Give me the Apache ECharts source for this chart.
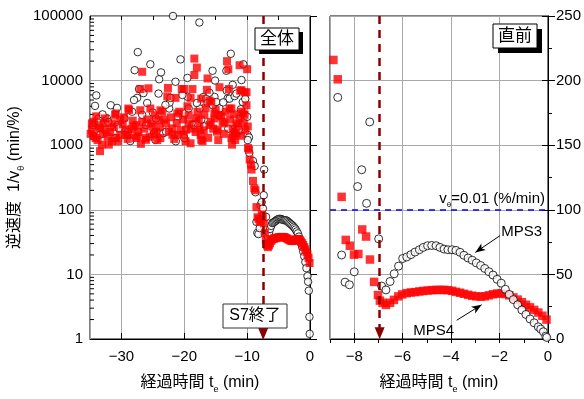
<!DOCTYPE html>
<html>
<head>
<meta charset="utf-8">
<script src="https://cdn.jsdelivr.net/npm/echarts@6/dist/echarts.min.js"></script>
<style>
  html, body { margin: 0; padding: 0; background: #fff; }
  #chart { width: 584px; height: 399px; }
</style>
</head>
<body>
<div id="chart"></div>
<script>
// MPS3 (○) 経過時間 t_e (min) / 逆速度 1/vθ (min/%)
const mps3Time = [
  -34.5, -34.4, -34.2, -34.0, -33.6, -33.4, -32.3, -32.1, -31.7, -30.7, -30.6, -30.4,
  -28.6, -28.3, -27.9, -27.5, -27.4, -27.2, -26.7, -26.1, -25.9, -25.4, -24.8, -24.6,
  -24.5, -24.1, -24.0, -23.7, -23.3, -22.9, -22.4, -22.35, -22.2, -21.8, -21.4, -21.35,
  -20.6, -20.0, -19.95, -19.5, -19.45, -19.3, -18.7, -18.5, -17.9, -17.6, -17.55, -17.0,
  -16.8, -16.5, -16.3, -15.5, -15.45, -15.2, -15.1, -14.9, -14.4, -13.3, -13.25, -13.1,
  -12.8, -12.6, -12.3, -12.0, -11.95, -11.7, -11.5, -11.3, -10.9, -10.7, -10.6, -10.4,
  -10.0, -9.95, -9.7, -9.65, -9.07,
  -33.0, -31.0, -29.5, -29.0, -28.0, -26.5, -25.0, -23.0, -21.0, -20.3, -18.0, -17.3,
  -16.0, -14.6, -13.8, -13.0, -11.0, -10.3, -9.9,
  -8.8, -8.68, -8.52, -8.38, -8.2, -8.0, -7.86, -7.69, -7.49, -7.36, -7.3, -6.99,
  -6.87, -6.69, -6.52, -6.35, -6.17, -6.0, -5.83, -5.66, -5.49, -5.31, -5.15, -4.97,
  -4.8, -4.62, -4.46, -4.29, -4.13, -3.96, -3.8, -3.63, -3.47, -3.3, -3.13, -2.96,
  -2.78, -2.61, -2.44, -2.27, -2.1, -1.93, -1.76, -1.6, -1.43, -1.25, -1.08, -0.91,
  -0.74, -0.57, -0.4, -0.3, -0.19, -0.09, -0.05
];
const mps3Value = [
  2050, 1380, 4060, 5900, 2600, 1450, 2600, 2300, 4150, 3780, 2050, 1820,
  1160, 3300, 14500, 5400, 27600, 7400, 2950, 2040, 4500, 17900, 1540, 1210,
  2600, 6300, 10500, 13400, 1540, 1620, 3700, 4550, 5400, 100000, 9600, 1150,
  21300, 1290, 3100, 11000, 5600, 3700, 2100, 2050, 2180, 79400, 3700, 5550,
  1950, 5250, 4500, 14200, 4150, 5600, 10000, 4660, 3700, 14200, 7000, 5300,
  5250, 26000, 8600, 5750, 1620, 6300, 1620, 1740, 10200, 4660, 17900, 2950,
  2750, 1450, 1320, 760, 570,
  3000, 1300, 2600, 1600, 5000, 6400, 3200, 4200, 2800, 6000, 4500, 2500,
  6500, 2900, 4600, 1800, 3600, 5200, 1200,
  475, 187, 65, 44, 42, 52, 118, 131, 105, 168, 420, 77.5,
  41, 38, 44.5, 50.5, 56.4, 62.3, 63.5, 65.3, 67.3, 69.1, 70.9, 72.2,
  72.4, 72.2, 70.9, 69.6, 69.1, 69.1, 68.6, 67.1, 64.8, 62.7, 61, 58.9,
  56.9, 54.6, 52.1, 49.5, 46.2, 43.2, 38.5, 34.5, 30.5, 26.5, 22.5, 19,
  15.5, 12.5, 9.4, 7.7, 5.6, 2.2, 1.2
];

// MPS4 (■)
const mps4Time = [
  -34.7, -34.7, -34.4, -34.4, -34.1, -33.6, -33.4, -33.4, -33.1, -32.6, -32.5, -32.0,
  -31.5, -31.5, -31.0, -30.9, -30.9, -30.2, -30.2, -29.4, -29.3, -28.9, -28.85, -28.8,
  -28.05, -27.7, -27.7, -27.5, -27.0, -27.0, -26.7, -26.7, -26.2, -26.1, -25.7, -25.4,
  -25.3, -25.1, -24.85, -24.5, -24.05, -23.8, -23.8, -23.5, -22.9, -22.7, -22.6, -22.45,
  -21.9, -21.9, -21.4, -21.1, -21.1, -20.8, -20.4, -20.05, -20.05, -19.7, -19.5, -19.25,
  -19.0, -19.0, -18.7, -18.4, -18.4, -18.1, -18.0, -17.9, -17.6, -17.4, -17.3, -17.3,
  -17.1, -16.8, -16.4, -16.3, -16.0, -16.0, -15.7, -15.2, -15.2, -14.8, -14.7, -14.4,
  -14.4, -13.9, -13.6, -13.2, -13.0, -12.9, -12.8, -12.5, -12.5, -12.4, -12.3, -12.3,
  -12.0, -11.7, -11.7, -11.2, -11.2, -11.1, -10.9, -10.9, -10.7, -10.4, -10.4, -10.1,
  -10.1, -10.0, -9.9,
  -34.9, -34.0, -33.8, -33.0, -32.8, -32.2, -31.8, -31.2, -30.5, -29.8, -29.6, -29.0,
  -28.4, -28.2, -27.3, -26.9, -26.4, -25.9, -25.5, -24.7, -24.3, -23.9, -23.2, -22.1,
  -21.6, -21.2, -20.6, -20.2, -19.8, -19.3, -18.9, -18.2, -17.7, -16.9, -16.6, -16.2,
  -15.8, -15.4, -15.0, -14.6, -14.1, -13.7, -13.4, -12.7, -12.1, -11.9, -11.5, -11.0,
  -10.6, -10.3,
  -9.87, -9.7, -9.6, -9.4, -9.3, -9.07,
  -8.86, -8.68, -8.52, -8.35, -8.18, -8.01, -7.83, -7.67, -7.51, -7.35, -7.18, -7.02,
  -6.94, -6.83, -6.69, -6.52, -6.36, -6.18, -6.02, -5.83, -5.66, -5.49, -5.31, -5.15,
  -4.97, -4.8, -4.62, -4.46, -4.29, -4.13, -3.96, -3.8, -3.63, -3.47, -3.3, -3.13,
  -2.96, -2.78, -2.61, -2.44, -2.27, -2.1, -1.93, -1.76, -1.6, -1.43, -1.25, -1.08,
  -0.91, -0.74, -0.57, -0.4, -0.23, -0.06
];
const mps4Value = [
  2180, 1740, 2300, 1380, 1290, 1950, 1830, 810, 1020, 2600, 1740, 1020,
  2180, 1150, 2950, 3100, 1290, 2450, 1450, 1740, 1450, 3700, 1450, 3500,
  1950, 2050, 1290, 1380, 7400, 3470, 13700, 2300, 1290, 1210, 7600, 3700,
  2180, 1950, 1480, 1620, 2450, 3470, 1290, 3300, 2180, 5700, 7700, 1620,
  1820, 1450, 5400, 3100, 1450, 3300, 7400, 7400, 1450, 1740, 4000, 2180,
  5400, 1070, 7400, 21900, 12200, 2600, 15900, 3300, 1830, 1450, 5250, 1210,
  1150, 2950, 7200, 10800, 4900, 2050, 4700, 3100, 2600, 1620, 1740, 7900,
  2950, 2300, 2180, 20000, 15000, 7400, 3700, 3700, 1290, 1020, 1820, 1380,
  1540, 2180, 1540, 17300, 2600, 7000, 7100, 3300, 3100, 6600, 2950, 6600,
  4150, 15000, 1950,
  1500, 2800, 1200, 1500, 2200, 1350, 1600, 1900, 1150, 2100, 2700, 1250,
  1800, 2400, 1600, 1050, 1800, 2500, 1350, 2900, 1200, 1900, 2500, 2700,
  1250, 2200, 1700, 2500, 1150, 2900, 1800, 1600, 2400, 1700, 3800, 1300,
  2300, 1800, 3500, 1200, 2800, 1500, 3300, 2500, 3000, 1200, 2000, 1400,
  2200, 1700,
  906, 850, 600, 500, 420, 280,
  216, 201, 110, 76.7, 72.2, 65.3, 65.8, 84.8, 79.3, 61.5, 44.2, 34,
  29.7, 28, 26.4, 28, 30.3, 33, 34.5, 35.5, 36, 36.3, 36.8, 37.2,
  37.5, 37.8, 38, 38, 38, 37.8, 37.3, 36.5, 35.8, 35, 34.2, 33.5,
  33, 32.8, 33, 33.8, 34.6, 35.2, 35.3, 34.8, 33.8, 32.2, 30.5, 28.5,
  26.5, 24.5, 22.5, 20.5, 18, 15
];

const logMinorTicks = [
  2, 3, 4, 5, 6, 7, 8, 9, 20, 30, 40, 50, 60, 70, 80, 90,
  200, 300, 400, 500, 600, 700, 800, 900, 2000, 3000, 4000, 5000, 6000, 7000, 8000, 9000,
  20000, 30000, 40000, 50000, 60000, 70000, 80000, 90000
];
const s7EndWhole = -7.45;   // S7終了 (全体)
const s7EndLast = -6.95;    // S7終了 (直前)
const thresholdLine = 100;  // vθ = 0.01 %/min
const mps3Arrow = [[-1.98, 80], [-3.0, 67]];
const mps4Arrow = [[-3.77, 14.5], [-2.74, 26.5]];

const FONT = "'Liberation Sans', Arial, 'Noto Sans CJK JP', sans-serif";
const GRID_COLOR = '#a8a8a8';
const DARK_RED = '#8b0000';

const mps3Data = mps3Time.map((t, i) => [t, mps3Value[i]]);
const mps4Data = mps4Time.map((t, i) => [t, mps4Value[i]]);

const minus = (v) => (v < 0 ? '\u2212' + Math.abs(v) : String(v));

const xName = '{t|経過時間 t}{s|e}{t| (min)}';
const nameRich = {
  t: { fontSize: 16, fontFamily: FONT, color: '#000', lineHeight: 22 },
  s: { fontSize: 9, fontFamily: FONT, color: '#000', lineHeight: 9, verticalAlign: 'bottom' }
};

const chart = echarts.init(document.getElementById('chart'), null, { renderer: 'canvas' });

const circleStyle = { color: '#fff', borderColor: '#000', borderWidth: 1 };
const squareStyle = { color: '#ff0000' };

const option = {
  animation: false,
  grid: [
    { left: 90, top: 16, width: 220, height: 328, show: true, borderColor: '#000', borderWidth: 1 },
    { left: 330, top: 16, width: 218, height: 328, show: true, borderColor: '#000', borderWidth: 1 }
  ],
  xAxis: [
    {
      gridIndex: 0, type: 'value', min: -35, max: 0, minInterval: 10, maxInterval: 10,
      axisLine: { lineStyle: { color: '#000' } },
      axisTick: { inside: true, length: 6, lineStyle: { color: '#000' } },
      axisLabel: { formatter: minus, showMinLabel: false, fontSize: 15, fontFamily: FONT, color: '#000', margin: 10 },
      splitLine: { show: true, lineStyle: { color: GRID_COLOR } },
      name: xName, nameLocation: 'middle', nameGap: 33,
      nameTextStyle: { rich: nameRich }
    },
    {
      gridIndex: 0, type: 'value', min: -35, max: 0, interval: 5,
      axisLine: { show: false },
      axisTick: { inside: true, length: 4, lineStyle: { color: '#000' } },
      axisLabel: { show: false }, splitLine: { show: false }
    },
    {
      gridIndex: 1, type: 'value', min: -9, max: 0, minInterval: 2, maxInterval: 2,
      axisLine: { lineStyle: { color: '#000' } },
      axisTick: { inside: true, length: 6, lineStyle: { color: '#000' } },
      axisLabel: { formatter: minus, showMinLabel: false, fontSize: 15, fontFamily: FONT, color: '#000', margin: 10 },
      splitLine: { show: true, lineStyle: { color: GRID_COLOR } },
      name: xName, nameLocation: 'middle', nameGap: 33,
      nameTextStyle: { rich: nameRich }
    },
    {
      gridIndex: 1, type: 'value', min: -9, max: 0, interval: 1,
      axisLine: { show: false },
      axisTick: { inside: true, length: 4, lineStyle: { color: '#000' } },
      axisLabel: { show: false }, splitLine: { show: false }
    }
  ],
  yAxis: [
    {
      gridIndex: 0, type: 'log', logBase: 10, min: 1, max: 100000,
      axisLine: { show: true, lineStyle: { color: '#000' } },
      axisTick: { show: true, inside: true, length: 7, lineStyle: { color: '#000' } },
      axisLabel: { formatter: (v) => String(Math.round(v)), fontSize: 15, fontFamily: FONT, color: '#000', margin: 7 },
      splitLine: { show: true, lineStyle: { color: GRID_COLOR } },
      name: '{t|逆速度  1/v}{s|θ}{t| (min/%)}',
      nameLocation: 'middle', nameRotate: 90, nameGap: 64,
      nameTextStyle: { rich: nameRich }
    },
    {
      gridIndex: 1, type: 'value', position: 'right', min: 0, max: 250, interval: 50,
      axisLine: { show: true, lineStyle: { color: '#000' } },
      axisTick: { show: true, inside: true, length: 6, lineStyle: { color: '#000' } },
      axisLabel: { fontSize: 15, fontFamily: FONT, color: '#000', margin: 8 },
      splitLine: { show: true, lineStyle: { color: GRID_COLOR } }
    },
    {
      gridIndex: 1, type: 'value', position: 'left', min: 0, max: 250, interval: 50,
      axisLine: { show: true, lineStyle: { color: '#000' } },
      axisTick: { show: true, inside: true, length: 7, lineStyle: { color: '#000' } },
      minorTick: { show: true, splitNumber: 2, length: 4, lineStyle: { color: '#000' } },
      axisLabel: { show: false }, splitLine: { show: false }
    }
  ],
  series: [
    {
      type: 'custom', xAxisIndex: 0, yAxisIndex: 0, silent: true, z: 1,
      data: logMinorTicks.map((v) => [-35, v]),
      renderItem: (params, api) => {
        const p = api.coord([api.value(0), api.value(1)]);
        return {
          type: 'line',
          shape: { x1: p[0], y1: p[1], x2: p[0] + 4, y2: p[1] },
          style: { stroke: '#000', lineWidth: 1 }
        };
      }
    },
    {
      name: 'MPS3', type: 'scatter', xAxisIndex: 0, yAxisIndex: 0, clip: true, z: 3,
      symbol: 'circle', symbolSize: 7.5, itemStyle: circleStyle, data: mps3Data
    },
    {
      name: 'MPS4', type: 'scatter', xAxisIndex: 0, yAxisIndex: 0, clip: true, z: 4,
      symbol: 'rect', symbolSize: 8, itemStyle: squareStyle, data: mps4Data,
      markLine: {
        silent: true, animation: false,
        label: { show: false },
        data: [[
          { coord: [s7EndWhole, 100000], symbol: 'none' },
          { coord: [s7EndWhole, 1.2], symbol: 'triangle', symbolSize: [10, 12] }
        ]],
        lineStyle: { color: DARK_RED, width: 2.5, type: [8, 6] }
      }
    },
    {
      name: 'MPS4', type: 'scatter', xAxisIndex: 2, yAxisIndex: 1, clip: true, z: 3,
      symbol: 'rect', symbolSize: 8.5, itemStyle: squareStyle, data: mps4Data
    },
    {
      name: 'MPS3', type: 'scatter', xAxisIndex: 2, yAxisIndex: 1, clip: true, z: 4,
      symbol: 'circle', symbolSize: 8, itemStyle: circleStyle, data: mps3Data,
      markLine: {
        silent: true, animation: false,
        label: { show: false },
        data: [
          [
            { coord: [s7EndLast, 250], symbol: 'none', lineStyle: { color: DARK_RED, width: 2.5, type: [8, 6] } },
            { coord: [s7EndLast, 4.5], symbol: 'triangle', symbolSize: [10, 12] }
          ],
          [
            { coord: [-9, thresholdLine], symbol: 'none', lineStyle: { color: '#0000ff', width: 1.5, type: [6, 5] } },
            { coord: [0, thresholdLine], symbol: 'none' }
          ],
          [
            { coord: mps3Arrow[0], symbol: 'none', lineStyle: { color: '#000', width: 1, type: 'solid' } },
            { coord: mps3Arrow[1], symbol: 'arrow', symbolSize: [6, 10] }
          ],
          [
            { coord: mps4Arrow[0], symbol: 'none', lineStyle: { color: '#000', width: 1, type: 'solid' } },
            { coord: mps4Arrow[1], symbol: 'arrow', symbolSize: [6, 10] }
          ]
        ]
      }
    }
  ],
  graphic: [
    { type: 'rect', z: 100, shape: { x: 259, y: 32, width: 44, height: 22 }, style: { fill: '#000' } },
    { type: 'rect', z: 101, shape: { x: 255, y: 28, width: 44, height: 22 }, style: { fill: '#fff', stroke: '#000', lineWidth: 1 } },
    { type: 'text', z: 102, x: 277, y: 39, style: { text: '全体', font: '17px ' + FONT, fill: '#000', align: 'center', verticalAlign: 'middle' } },

    { type: 'rect', z: 100, shape: { x: 498, y: 29, width: 44, height: 24 }, style: { fill: '#000' } },
    { type: 'rect', z: 101, shape: { x: 493, y: 24, width: 44, height: 24 }, style: { fill: '#fff', stroke: '#000', lineWidth: 1 } },
    { type: 'text', z: 102, x: 515, y: 36, style: { text: '直前', font: '17px ' + FONT, fill: '#000', align: 'center', verticalAlign: 'middle' } },

    { type: 'rect', z: 101, shape: { x: 223, y: 304, width: 64, height: 24 }, style: { fill: '#fff', stroke: '#333', lineWidth: 1 } },
    { type: 'text', z: 102, x: 255, y: 316, style: { text: 'S7終了', font: '16px ' + FONT, fill: '#000', align: 'center', verticalAlign: 'middle' } },

    {
      type: 'text', z: 102, x: 545, y: 199,
      style: {
        text: '{t|v}{s|θ}{t|=0.01 (%/min)}', align: 'right', verticalAlign: 'middle',
        rich: {
          t: { fontSize: 15, fontFamily: FONT, fill: '#000', lineHeight: 20 },
          s: { fontSize: 8, fontFamily: FONT, fill: '#000', lineHeight: 8, verticalAlign: 'bottom' }
        }
      }
    },
    { type: 'text', z: 102, x: 542, y: 232, style: { text: 'MPS3', font: '15px ' + FONT, fill: '#000', align: 'right', verticalAlign: 'middle' } },
    { type: 'text', z: 102, x: 454, y: 331, style: { text: 'MPS4', font: '15px ' + FONT, fill: '#000', align: 'right', verticalAlign: 'middle' } }
  ]
};

chart.setOption(option);
</script>
</body>
</html>
